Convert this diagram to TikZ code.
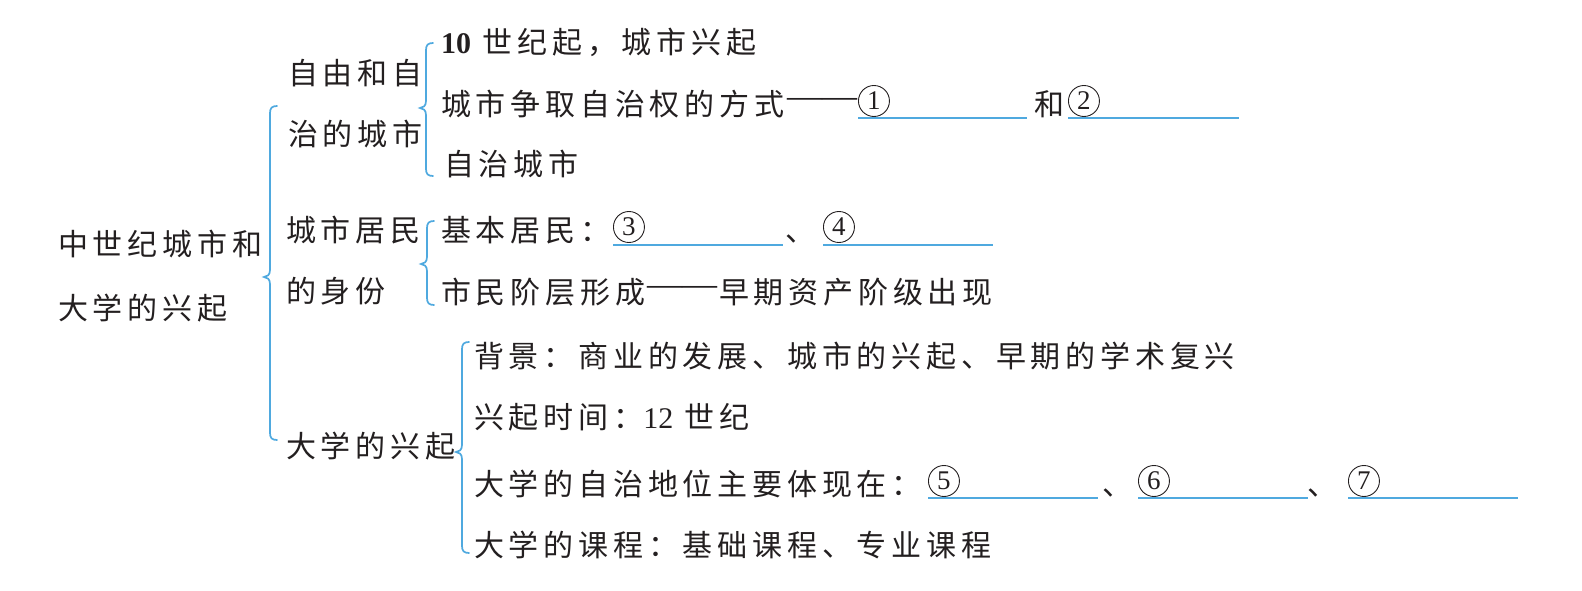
\documentclass[tikz,border=0pt]{standalone}
\usepackage{fontspec}
\usepackage{tikz}
\usetikzlibrary{positioning}
\setmainfont{Liberation Serif}
\newfontfamily\cjk[LetterSpace=16]{Noto Sans CJK SC}
\newfontfamily\numfont{Liberation Serif}
\definecolor{InkGray}{HTML}{231F20}
\definecolor{LineBlue}{HTML}{4FA9DF}
\newcommand\mapbrace[4]{%
 \draw[brace] (#1+7,#2) .. controls (#1+2,#2) and (#1,#2+2) .. (#1,#2+7)
 -- (#1,#3-7) .. controls (#1,#3-2) and (#1-3,#3) .. (#1-6,#3)
 .. controls (#1-3,#3) and (#1,#3+2) .. (#1,#3+7)
 -- (#1,#4-7) .. controls (#1,#4-2) and (#1+2,#4) .. (#1+7,#4);}

\begin{document}
\begin{tikzpicture}[x=1pt,y=-1pt,
 txt/.style={anchor=west,inner sep=0pt,text height=25pt,text depth=2pt,
 text=InkGray,font=\cjk\fontsize{30}{36}\selectfont},
 dashtxt/.style={anchor=center,inner sep=0pt,text=InkGray,font=\numfont\fontsize{35}{36}\selectfont},
 circnum/.style={anchor=west,circle,draw=InkGray,line width=0.9pt,minimum size=31pt,
 inner sep=0pt,text=InkGray,font=\numfont\fontsize{27}{27}\selectfont},
 blank/.style={draw=LineBlue,line width=1.2pt},
 brace/.style={draw=LineBlue,line width=1.7pt,line cap=round}]
 \useasboundingbox (0,0) rectangle (1582,591);
 \node[txt] (root1) at (58,244) {中世纪城市和};
 \node[txt] (root2) at (58,308) {大学的兴起};
 \mapbrace{270}{106}{277}{440}

 \node[txt] (city1) at (288,73) {自由和自};
 \node[txt] (city2) at (288,134) {治的城市};
 \node[txt] (res1) at (286,230) {城市居民};
 \node[txt] (res2) at (286,291) {的身份};
 \node[txt] (uni) at (286,446) {大学的兴起};
 \mapbrace{426}{43}{108}{176}
 \mapbrace{427}{221}{264}{305}
 \mapbrace{462}{342}{452}{553}

 \node[txt] (rise) at (441,42) {{\numfont\bfseries 10} 世纪起，城市兴起};
 \node[txt] (way) at (441,104) {城市争取自治权的方式};
 \node[dashtxt] (way dash) at (822,103) {——};
 \node[circnum] (no1) at (858,101) {1};
 \node[txt] (and) at (1034,104) {和};
 \node[circnum] (no2) at (1068,101) {2};
 \coordinate (b1s) at (858,118); \coordinate (b1e) at (1027,118);
 \coordinate (b2s) at (1068,118); \coordinate (b2e) at (1239,118);
 \draw[blank] (b1s) -- (b1e);
 \draw[blank] (b2s) -- (b2e);
 \node[txt] (auto) at (444,164) {自治城市};

 \node[txt] (basic) at (441,230) {基本居民：};
 \node[circnum] (no3) at (613,227) {3};
 \node[txt] (sep34) at (785,230) {、};
 \node[circnum] (no4) at (823,227) {4};
 \coordinate (b3s) at (613,245); \coordinate (b3e) at (783,245);
 \coordinate (b4s) at (823,245); \coordinate (b4e) at (993,245);
 \draw[blank] (b3s) -- (b3e);
 \draw[blank] (b4s) -- (b4e);
 \node[txt] (burgher) at (441,292) {市民阶层形成};
 \node[dashtxt] (burgher dash) at (682,291) {——};
 \node[txt] (bourgeois) at (719,292) {早期资产阶级出现};

 \node[txt] (bg) at (474,356) {背景：商业的发展、城市的兴起、早期的学术复兴};
 \node[txt] (time) at (474,417) {兴起时间：{\numfont 12} 世纪};
 \node[txt] (status) at (474,484) {大学的自治地位主要体现在：};
 \node[circnum] (no5) at (928,481) {5};
 \node[txt] (sep56) at (1102,484) {、};
 \node[circnum] (no6) at (1138,481) {6};
 \node[txt] (sep67) at (1307,484) {、};
 \node[circnum] (no7) at (1348,481) {7};
 \coordinate (b5s) at (928,498); \coordinate (b5e) at (1098,498);
 \coordinate (b6s) at (1138,498); \coordinate (b6e) at (1308,498);
 \coordinate (b7s) at (1348,498); \coordinate (b7e) at (1518,498);
 \draw[blank] (b5s) -- (b5e);
 \draw[blank] (b6s) -- (b6e);
 \draw[blank] (b7s) -- (b7e);
 \node[txt] (course) at (474,545) {大学的课程：基础课程、专业课程};
\end{tikzpicture}
\end{document}
